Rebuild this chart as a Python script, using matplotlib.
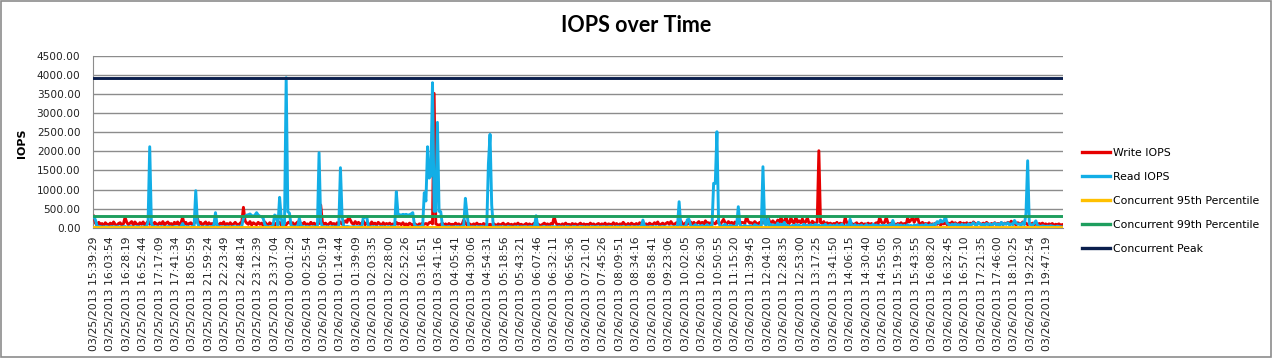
import matplotlib
matplotlib.use("Agg")
import matplotlib.pyplot as plt
from matplotlib.patches import Rectangle
import numpy as np

# ---------------- data ----------------
tick_labels = [
    "03/25/2013 15:39:29", "03/25/2013 16:03:54", "03/25/2013 16:28:19", "03/25/2013 16:52:44",
    "03/25/2013 17:17:09", "03/25/2013 17:41:34", "03/25/2013 18:05:59", "03/25/2013 21:59:24",
    "03/25/2013 22:23:49", "03/25/2013 22:48:14", "03/25/2013 23:12:39", "03/25/2013 23:37:04",
    "03/26/2013 00:01:29", "03/26/2013 00:25:54", "03/26/2013 00:50:19", "03/26/2013 01:14:44",
    "03/26/2013 01:39:09", "03/26/2013 02:03:35", "03/26/2013 02:28:00", "03/26/2013 02:52:26",
    "03/26/2013 03:16:51", "03/26/2013 03:41:16", "03/26/2013 04:05:41", "03/26/2013 04:30:06",
    "03/26/2013 04:54:31", "03/26/2013 05:18:56", "03/26/2013 05:43:21", "03/26/2013 06:07:46",
    "03/26/2013 06:32:11", "03/26/2013 06:56:36", "03/26/2013 07:21:01", "03/26/2013 07:45:26",
    "03/26/2013 08:09:51", "03/26/2013 08:34:16", "03/26/2013 08:58:41", "03/26/2013 09:23:06",
    "03/26/2013 10:02:05", "03/26/2013 10:26:30", "03/26/2013 10:50:55", "03/26/2013 11:15:20",
    "03/26/2013 11:39:45", "03/26/2013 12:04:10", "03/26/2013 12:28:35", "03/26/2013 12:53:00",
    "03/26/2013 13:17:25", "03/26/2013 13:41:50", "03/26/2013 14:06:15", "03/26/2013 14:30:40",
    "03/26/2013 14:55:05", "03/26/2013 15:19:30", "03/26/2013 15:43:55", "03/26/2013 16:08:20",
    "03/26/2013 16:32:45", "03/26/2013 16:57:10", "03/26/2013 17:21:35", "03/26/2013 17:46:00",
    "03/26/2013 18:10:25", "03/26/2013 19:22:54", "03/26/2013 19:47:19",
]
samples_per_label = 10

# one row = the samples between two consecutive category labels
write_iops = [
    300, 120, 60, 140, 80, 110, 50, 130, 90, 70,
    120, 60, 150, 90, 40, 110, 130, 70, 100, 270,
    140, 80, 120, 160, 70, 150, 100, 60, 130, 90,
    150, 70, 110, 170, 90, 120, 60, 140, 100, 80,
    130, 90, 160, 70, 120, 150, 80, 110, 60, 140,
    100, 150, 70, 120, 270, 90, 140, 60, 110, 130,
    80, 120, 160, 250, 90, 140, 70, 110, 150, 60,
    130, 90, 110, 60, 140, 100, 70, 120, 90, 150,
    60, 110, 80, 130, 70, 100, 140, 90, 60, 120,
    150, 534, 180, 120, 90, 160, 70, 130, 100, 80,
    140, 90, 120, 60, 150, 100, 70, 130, 90, 110,
    60, 120, 90, 140, 70, 110, 100, 80, 130, 150,
    90, 130, 70, 110, 150, 60, 120, 90, 140, 80,
    100, 70, 140, 90, 120, 60, 130, 110, 595, 150,
    90, 120, 60, 100, 140, 80, 110, 70, 130, 100,
    150, 90, 120, 180, 140, 288, 200, 120, 90, 160,
    100, 140, 90, 120, 170, 80, 130, 110, 60, 150,
    90, 120, 70, 140, 100, 60, 130, 80, 110, 90,
    120, 70, 100, 60, 140, 90, 110, 80, 130, 70,
    100, 60, 120, 90, 70, 110, 80, 60, 100, 90,
    120, 90, 110, 80, 130, 150, 100, 3520, 100, 80,
    60, 90, 120, 70, 100, 60, 110, 80, 90, 70,
    120, 80, 100, 60, 90, 200, 130, 70, 110, 90,
    60, 100, 80, 120, 70, 90, 60, 110, 80, 100,
    70, 90, 60, 110, 80, 60, 100, 70, 90, 120,
    60, 80, 110, 70, 90, 60, 100, 80, 120, 70,
    90, 60, 80, 110, 70, 100, 60, 90, 120, 80,
    100, 70, 60, 90, 120, 80, 100, 60, 110, 90,
    288, 130, 70, 90, 60, 100, 80, 120, 70, 90,
    60, 110, 80, 100, 70, 90, 120, 60, 100, 80,
    90, 70, 120, 80, 100, 60, 90, 110, 70, 100,
    80, 120, 60, 100, 90, 70, 130, 80, 110, 60,
    100, 80, 140, 90, 70, 110, 60, 120, 90, 80,
    110, 70, 130, 90, 150, 80, 100, 60, 120, 90,
    80, 130, 100, 150, 70, 90, 120, 80, 110, 140,
    90, 160, 100, 80, 120, 140, 90, 180, 110, 80,
    130, 90, 120, 150, 100, 140, 80, 120, 160, 100,
    140, 90, 180, 110, 130, 90, 150, 120, 100, 170,
    120, 90, 150, 220, 130, 100, 160, 110, 140, 90,
    150, 120, 180, 100, 140, 130, 110, 290, 170, 120,
    130, 100, 160, 120, 90, 140, 110, 150, 120, 160,
    290, 160, 120, 180, 130, 100, 200, 140, 270, 120,
    160, 290, 130, 110, 250, 150, 120, 280, 140, 180,
    130, 230, 110, 150, 260, 120, 90, 170, 130, 110,
    150, 2017, 140, 110, 160, 90, 130, 100, 120, 80,
    110, 90, 140, 70, 120, 100, 80, 250, 130, 90,
    60, 110, 80, 100, 130, 70, 90, 120, 80, 100,
    90, 120, 80, 110, 70, 100, 130, 90, 270, 150,
    110, 140, 270, 130, 90, 120, 80, 100, 70, 110,
    90, 130, 80, 110, 70, 250, 150, 200, 260, 140,
    230, 270, 120, 100, 140, 80, 110, 90, 130, 70,
    100, 80, 120, 90, 140, 70, 110, 100, 130, 80,
    120, 90, 150, 100, 130, 80, 110, 140, 90, 120,
    100, 130, 80, 120, 90, 150, 110, 80, 130, 100,
    90, 120, 80, 140, 100, 70, 110, 90, 130, 80,
    110, 90, 130, 80, 120, 100, 140, 90, 170, 120,
    100, 80, 130, 110, 90, 150, 100, 120, 80, 110,
    90, 120, 80, 100, 70, 110, 90, 120, 80, 100,
    70, 100, 80, 110, 60, 90, 80, 100, 70, 80,
]

read_iops = [
    290, 200, 40, 20, 30, 15, 25, 20, 30, 15,
    20, 30, 15, 25, 20, 30, 15, 20, 25, 30,
    15, 20, 30, 25, 15, 20, 30, 25, 20, 15,
    25, 20, 30, 150, 2122, 120, 25, 20, 30, 15,
    20, 30, 25, 15, 20, 30, 25, 20, 15, 30,
    20, 25, 15, 30, 110, 20, 25, 30, 15, 20,
    30, 40, 970, 130, 30, 20, 25, 15, 30, 20,
    25, 20, 30, 60, 394, 60, 20, 30, 15, 25,
    20, 30, 25, 15, 20, 30, 25, 20, 30, 15,
    40, 250, 300, 330, 340, 360, 320, 300, 330, 394,
    330, 300, 290, 250, 80, 30, 25, 20, 30, 60,
    333, 300, 60, 796, 250, 40, 120, 3930, 420, 380,
    60, 30, 25, 20, 40, 246, 60, 30, 20, 25,
    30, 20, 25, 15, 30, 20, 40, 1966, 150, 30,
    25, 20, 30, 15, 25, 30, 20, 25, 15, 30,
    1572, 300, 40, 20, 30, 25, 15, 20, 30, 25,
    20, 30, 25, 15, 290, 280, 290, 30, 25, 20,
    30, 20, 25, 15, 20, 30, 25, 20, 15, 30,
    20, 25, 30, 15, 943, 360, 340, 330, 350, 340,
    350, 330, 340, 360, 394, 80, 30, 20, 25, 40,
    30, 917, 700, 2122, 1300, 1354, 3800, 430, 430, 2761,
    430, 420, 60, 30, 20, 25, 30, 20, 15, 25,
    20, 30, 25, 20, 40, 60, 770, 350, 30, 20,
    25, 20, 15, 30, 20, 25, 30, 20, 15, 25,
    1669, 2447, 595, 30, 20, 25, 15, 30, 20, 25,
    20, 15, 30, 25, 20, 15, 25, 20, 30, 15,
    25, 20, 30, 15, 20, 25, 30, 20, 25, 314,
    40, 20, 15, 25, 30, 20, 15, 25, 20, 30,
    20, 25, 15, 30, 20, 25, 15, 20, 30, 25,
    15, 20, 30, 25, 15, 20, 25, 30, 20, 15,
    25, 20, 15, 30, 25, 20, 30, 15, 25, 20,
    30, 15, 25, 20, 30, 25, 15, 20, 25, 30,
    20, 25, 30, 15, 20, 30, 25, 15, 20, 25,
    15, 30, 20, 25, 200, 30, 20, 25, 15, 30,
    25, 20, 30, 15, 25, 20, 30, 25, 20, 15,
    20, 25, 15, 30, 20, 25, 681, 60, 20, 30,
    40, 210, 220, 60, 30, 40, 80, 30, 50, 40,
    60, 30, 40, 80, 30, 50, 40, 1163, 1160, 2515,
    150, 40, 30, 60, 90, 40, 30, 60, 50, 40,
    30, 60, 550, 80, 40, 30, 60, 40, 30, 50,
    40, 30, 80, 60, 40, 30, 50, 1598, 100, 60,
    250, 40, 80, 30, 70, 40, 120, 30, 90, 50,
    140, 40, 60, 30, 40, 60, 30, 80, 40, 70,
    30, 50, 90, 40, 60, 30, 80, 40, 60, 90,
    40, 70, 30, 60, 40, 90, 30, 50, 70, 40,
    60, 30, 80, 40, 60, 90, 40, 30, 70, 40,
    220, 60, 40, 80, 30, 60, 40, 70, 30, 50,
    80, 40, 60, 30, 90, 50, 70, 40, 60, 30,
    70, 40, 60, 30, 80, 40, 190, 60, 40, 80,
    50, 70, 40, 60, 30, 80, 40, 60, 30, 70,
    50, 80, 40, 60, 70, 40, 90, 60, 50, 80,
    60, 100, 80, 160, 120, 200, 150, 180, 288, 120,
    80, 60, 90, 70, 100, 60, 80, 50, 90, 60,
    80, 50, 100, 70, 90, 130, 80, 60, 140, 100,
    70, 90, 60, 110, 80, 100, 70, 90, 120, 80,
    100, 60, 140, 80, 110, 90, 130, 70, 100, 80,
    190, 120, 90, 100, 60, 130, 80, 380, 1755, 100,
    80, 60, 120, 180, 60, 40, 30, 50, 40, 30,
    40, 30, 50, 40, 30, 20, 40, 30, 25, 20,
]

pct95 = 12.0
pct99 = 314.0
peak = 3935.0

series_names = ["Write IOPS", "Read IOPS", "Concurrent 95th Percentile",
                "Concurrent 99th Percentile", "Concurrent Peak"]
series_colors = ["#E60000", "#12AEE6", "#FFC000", "#1E9E5E", "#0B1F4D"]

# ---------------- figure ----------------
W, H = 1273, 361
fig = plt.figure(figsize=(W / 100, H / 100), dpi=100)
fig.patch.set_facecolor("white")

ax_left, ax_right = 93 / W, 1063 / W
ax_bottom, ax_top = 1 - 227.7 / H, 1 - 56 / H
ax = fig.add_axes([ax_left, ax_bottom, ax_right - ax_left, ax_top - ax_bottom])

n = len(write_iops)
x = np.arange(n)
lw = 2.1
ax.plot(x, write_iops, color=series_colors[0], lw=lw, label=series_names[0], zorder=3)
ax.plot(x, read_iops, color=series_colors[1], lw=lw, label=series_names[1], zorder=4)
ax.plot(x, [pct95] * n, color=series_colors[2], lw=lw, label=series_names[2], zorder=5)
ax.plot(x, [pct99] * n, color=series_colors[3], lw=lw, label=series_names[3], zorder=5)
ax.plot(x, [peak] * n, color=series_colors[4], lw=lw, label=series_names[4], zorder=5)

ax.set_xlim(-0.5, n - 0.5)
ax.set_ylim(0, 4500)
ax.set_yticks(np.arange(0, 4501, 500))
ax.yaxis.set_major_formatter(matplotlib.ticker.FormatStrFormatter("%.2f"))
ax.grid(axis="y", color="#8C8C8C", lw=1.0)
ax.set_axisbelow(True)

tick_pos = np.arange(len(tick_labels)) * samples_per_label
ax.set_xticks(tick_pos)
ax.set_xticklabels(tick_labels, rotation=90, fontsize=7.8, color="#222222")
ax.tick_params(axis="x", length=0, pad=6)
ax.tick_params(axis="y", length=0, pad=9, labelsize=7.6, labelcolor="#222222")

for s in ["top", "right"]:
    ax.spines[s].set_visible(False)
ax.spines["left"].set_color("#8C8C8C")
ax.spines["bottom"].set_color("#8C8C8C")

ax.set_ylabel("IOPS", fontsize=8, fontweight="bold")
ax.yaxis.set_label_coords((27 - 93) / 970, 0.49)

fig.text(636 / W, 1 - 25 / H, "IOPS over Time", ha="center", va="center",
         fontsize=15.5, fontweight="bold", family="Lato")

leg = ax.legend(loc="center left", bbox_to_anchor=(1082 / W, 1 - 201 / H),
                bbox_transform=fig.transFigure, frameon=False, fontsize=7.8,
                handlelength=2.6, handletextpad=0.25, labelspacing=1.3,
                borderpad=0, borderaxespad=0)
for line in leg.get_lines():
    line.set_linewidth(2.4)

fig.patches.append(Rectangle((0.5 / W, 4 / H), (W - 2.5) / W, (H - 4.5) / H,
                             transform=fig.transFigure, fill=False,
                             edgecolor="#8C8C8C", lw=1.2))

fig.savefig("out.png", dpi=100, facecolor="white")
